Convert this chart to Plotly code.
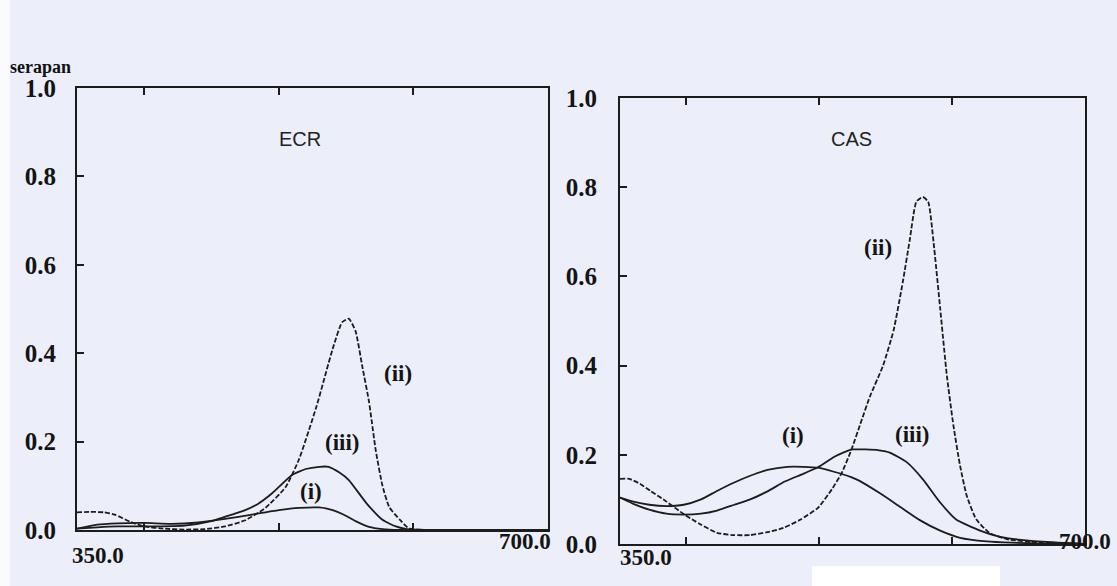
import plotly.graph_objects as go

# ---------------- data ----------------
# ECR panel
ecr_i_nm = [350, 365, 380, 400, 420, 440, 460, 480, 500, 515, 530, 540, 548, 557, 567, 577, 590, 620, 700]
ecr_i_val = [0.003, 0.012, 0.015, 0.016, 0.014, 0.017, 0.025, 0.035, 0.045, 0.05, 0.051, 0.045, 0.035, 0.02, 0.007, 0.002, 0.0, 0.0, 0.0]

ecr_ii_nm = [350, 360, 370, 378, 390, 400, 415, 430, 445, 460, 475, 490, 505, 515, 528, 540, 547, 552, 557, 562,
             567, 572, 577, 582, 590, 597, 620, 700]
ecr_ii_val = [0.04, 0.041, 0.04, 0.035, 0.018, 0.008, 0.003, 0.001, 0.002, 0.008, 0.022, 0.05, 0.097, 0.16, 0.28,
              0.41, 0.47, 0.478, 0.45, 0.37, 0.29, 0.18, 0.10, 0.052, 0.023, 0.003, 0.0, 0.0]

ecr_iii_nm = [350, 365, 380, 400, 430, 450, 465, 475, 485, 495, 510, 520, 530, 537, 545, 552, 565, 577, 587, 595, 620, 700]
ecr_iii_val = [0.003, 0.006, 0.008, 0.008, 0.01, 0.02, 0.035, 0.045, 0.06, 0.083, 0.125, 0.138, 0.143, 0.143, 0.13,
               0.113, 0.061, 0.023, 0.008, 0.002, 0.0, 0.0]

# CAS panel
cas_i_nm = [350, 360, 372, 385, 398, 411, 423, 436, 448, 461, 476, 488, 499, 511, 524, 530, 546, 561, 576, 591,
            606, 626, 645, 670, 700]
cas_i_val = [0.104, 0.095, 0.088, 0.085, 0.088, 0.1, 0.119, 0.138, 0.153, 0.166, 0.173, 0.173, 0.171, 0.162, 0.15,
             0.142, 0.113, 0.083, 0.053, 0.03, 0.014, 0.006, 0.003, 0.001, 0.0]

cas_ii_nm = [350, 357, 365, 373, 385, 398, 410, 423, 435, 448, 460, 473, 486, 499, 510, 517, 524, 531, 538, 548,
             556, 563, 568, 573, 578, 582, 586, 591, 596, 601, 606, 611, 618, 628, 641, 666, 685, 700]
cas_ii_val = [0.146, 0.146, 0.135, 0.119, 0.095, 0.067, 0.045, 0.025, 0.02, 0.02, 0.026, 0.036, 0.055, 0.081, 0.125,
              0.16, 0.21, 0.27, 0.33, 0.40, 0.48, 0.59, 0.68, 0.767, 0.778, 0.767, 0.677, 0.528, 0.378, 0.265,
              0.175, 0.108, 0.056, 0.025, 0.011, 0.003, 0.002, 0.0]

cas_iii_nm = [350, 360, 372, 385, 398, 411, 423, 436, 448, 461, 474, 486, 499, 511, 518, 525, 535, 545, 553, 566,
              578, 591, 603, 621, 636, 656, 680, 700]
cas_iii_val = [0.104, 0.09, 0.077, 0.068, 0.066, 0.068, 0.075, 0.088, 0.1, 0.118, 0.14, 0.155, 0.172, 0.195, 0.205,
               0.212, 0.212, 0.21, 0.205, 0.183, 0.145, 0.093, 0.055, 0.03, 0.016, 0.008, 0.003, 0.0]

y_ticks = [0.0, 0.2, 0.4, 0.6, 0.8, 1.0]
y_tick_text = ["0.0", "0.2", "0.4", "0.6", "0.8", "1.0"]
x_minor_ticks = [400, 500, 600]
x_label_vals = [350, 700]
x_label_text = ["350.0", "700.0"]
panel_titles = ["ECR", "CAS"]
curve_names = ["(i)", "(ii)", "(iii)"]

# ---------------- figure ----------------
W, H = 1117, 586
BG = "#eceff9"
INK = "#1c1c1c"

fig = go.Figure()


def add(xs, ys, dash, xa, ya):
    fig.add_trace(go.Scatter(
        x=xs, y=ys, mode="lines",
        line=dict(color=INK, width=1.8, dash=dash, shape="spline", smoothing=0.5),
        xaxis=xa, yaxis=ya, showlegend=False, hoverinfo="skip"))


add(ecr_i_nm, ecr_i_val, "solid", "x", "y")
add(ecr_iii_nm, ecr_iii_val, "solid", "x", "y")
add(ecr_ii_nm, ecr_ii_val, "5px,2px", "x", "y")
add(cas_i_nm, cas_i_val, "solid", "x2", "y2")
add(cas_iii_nm, cas_iii_val, "solid", "x2", "y2")
add(cas_ii_nm, cas_ii_val, "5px,2px", "x2", "y2")

serif = "Liberation Serif"
tickfont = dict(family=serif, size=25, color="#141414", weight="bold")


def xaxis(domain, anchor):
    return dict(domain=domain, anchor=anchor, range=[350, 700], showline=True, linewidth=2, linecolor=INK,
                mirror="ticks", ticks="inside", ticklen=7, tickwidth=1.5, tickcolor=INK, automargin=False,
                tickvals=x_minor_ticks, showticklabels=False, showgrid=False, zeroline=False)


def yaxis(domain, anchor, standoff):
    return dict(domain=domain, anchor=anchor, range=[0, 1.0], showline=True, linewidth=2, linecolor=INK,
                mirror=True, ticks="inside", ticklen=7, tickwidth=1.5, tickcolor=INK, automargin=False,
                tickvals=y_ticks, ticktext=y_tick_text, tickfont=tickfont, ticklabelstandoff=standoff,
                showgrid=False, zeroline=False)


left_dom_x = [77 / W, 548 / W]
left_dom_y = [(H - 530) / H, (H - 88) / H]
right_dom_x = [620 / W, 1085 / W]
right_dom_y = [(H - 544) / H, (H - 98) / H]

fig.update_layout(
    width=W, height=H, margin=dict(l=0, r=0, t=0, b=0, autoexpand=False),
    paper_bgcolor=BG, plot_bgcolor=BG, showlegend=False,
    xaxis=xaxis(left_dom_x, "y"), yaxis=yaxis(left_dom_y, "x", 14),
    xaxis2=xaxis(right_dom_x, "y2"), yaxis2=yaxis(right_dom_y, "x2", 16),
)

ann = []
lab_font = dict(family=serif, size=23, color="#141414", weight="bold")
title_font = dict(family="Liberation Sans", size=20, color="#222")
# panel titles
ann.append(dict(text=panel_titles[0], x=516, y=0.885, xref="x", yref="y", showarrow=False, font=title_font))
ann.append(dict(text=panel_titles[1], x=524.6, y=0.908, xref="x2", yref="y2", showarrow=False, font=title_font))
# curve labels ECR
ann.append(dict(text=curve_names[1], x=588.5, y=0.353, xref="x", yref="y", showarrow=False, font=lab_font))
ann.append(dict(text=curve_names[2], x=547.6, y=0.197, xref="x", yref="y", showarrow=False, font=lab_font))
ann.append(dict(text=curve_names[0], x=524, y=0.087, xref="x", yref="y", showarrow=False, font=lab_font))
# curve labels CAS
ann.append(dict(text=curve_names[1], x=544, y=0.665, xref="x2", yref="y2", showarrow=False, font=lab_font))
ann.append(dict(text=curve_names[0], x=480, y=0.243, xref="x2", yref="y2", showarrow=False, font=lab_font))
ann.append(dict(text=curve_names[2], x=570, y=0.245, xref="x2", yref="y2", showarrow=False, font=lab_font))
# y title
ann.append(dict(text="serapan", x=8 / W, y=(H - 67) / H, xref="paper", yref="paper", xanchor="left",
                yanchor="middle", showarrow=False, font=dict(family=serif, size=18, color="#111", weight="bold")))
# x end labels
xfont = dict(family=serif, size=23, color="#141414", weight="bold")
ann.append(dict(text=x_label_text[0], x=x_label_vals[0], xref="x", xshift=21, y=(H - 570) / H, yref="paper",
                showarrow=False, font=xfont))
ann.append(dict(text=x_label_text[1], x=x_label_vals[1], xref="x", xshift=-23, y=(H - 556) / H, yref="paper",
                showarrow=False, font=xfont))
ann.append(dict(text=x_label_text[0], x=x_label_vals[0], xref="x2", xshift=26, y=(H - 572) / H, yref="paper",
                showarrow=False, font=xfont))
ann.append(dict(text=x_label_text[1], x=x_label_vals[1], xref="x2", xshift=0, y=(H - 556) / H, yref="paper",
                showarrow=False, font=xfont))
fig.update_layout(annotations=ann)

# scan artefacts: white margin strip and a white patch at the bottom
fig.update_layout(shapes=[
    dict(type="rect", xref="paper", yref="paper", x0=0, x1=10 / W, y0=0, y1=1, fillcolor="#fafbfe",
         line=dict(width=0), layer="below"),
    dict(type="rect", xref="paper", yref="paper", x0=812 / W, x1=1000 / W, y0=0, y1=(H - 566) / H,
         fillcolor="#ffffff", line=dict(width=0), layer="below"),
])

fig.write_html("out.html")
